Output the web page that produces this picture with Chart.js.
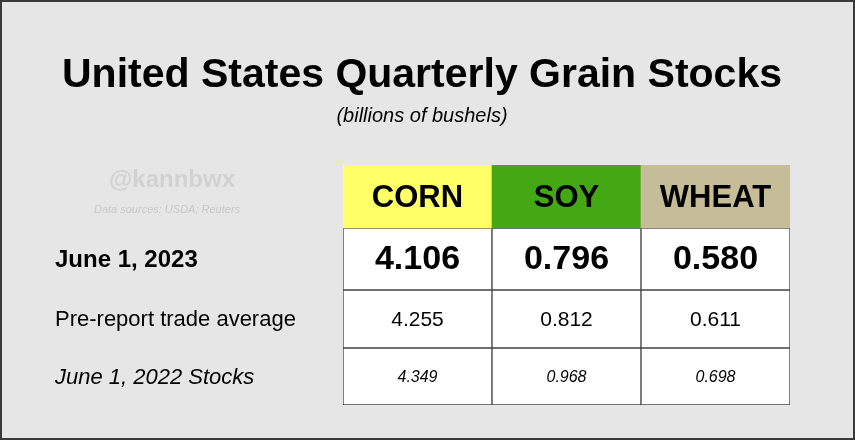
<!DOCTYPE html>
<html>
<head>
<meta charset="utf-8">
<script src="https://cdn.jsdelivr.net/npm/chart.js@4"></script>
<style>
  html, body { margin: 0; padding: 0; background: #fff; }
  #wrap { width: 855px; height: 440px; }
</style>
</head>
<body>
<div id="wrap"><canvas id="grain"></canvas></div>
<script>
// table data
const crops = ['CORN', 'SOY', 'WHEAT'];
const headerColors = ['#ffff66', '#44a814', '#c4bd97'];
const rowLabels = ['June 1, 2023', 'Pre-report trade average', 'June 1, 2022 Stocks'];
const june2023 = [4.106, 0.796, 0.580];
const tradeAverage = [4.255, 0.812, 0.611];
const june2022 = [4.349, 0.968, 0.698];

// row boundaries on the y scale (header, then three rows)
const rowEdges = [0, 63, 125, 183, 240];
const rowValues = [june2023, tradeAverage, june2022];
const rowFonts = ['bold 34px Arial, "Liberation Sans"', '21px Arial, "Liberation Sans"', 'italic 16px Arial, "Liberation Sans"'];
const labelFonts = ['bold 24px Arial, "Liberation Sans"', '22px Arial, "Liberation Sans"', 'italic 22px Arial, "Liberation Sans"'];

const datasets = [{
    label: 'header',
    data: crops.map(() => [rowEdges[0], rowEdges[1]]),
    backgroundColor: headerColors,
    borderWidth: 0,
    grouped: false
}];
rowValues.forEach((vals, r) => {
    datasets.push({
        label: rowLabels[r],
        data: vals.map(() => [rowEdges[r + 1], rowEdges[r + 2]]),
        backgroundColor: '#ffffff',
        borderColor: '#444444',
        borderWidth: 1,
        borderSkipped: false,
        grouped: false
    });
});

const tablePlugin = {
    id: 'tableText',
    beforeDraw(chart) {
        const ctx = chart.ctx;
        ctx.save();
        ctx.fillStyle = '#e6e6e6';
        ctx.fillRect(0, 0, chart.width, chart.height);
        ctx.strokeStyle = '#3a3a3a';
        ctx.lineWidth = 2;
        ctx.strokeRect(1, 1, chart.width - 2, chart.height - 2);
        ctx.fillStyle = '#000';
        ctx.textAlign = 'center';
        ctx.textBaseline = 'middle';
        ctx.font = 'bold 41px Arial, "Liberation Sans"';
        ctx.fillText('United States Quarterly Grain Stocks', 422, 76);
        ctx.font = 'italic 20px Arial, "Liberation Sans"';
        ctx.fillText('(billions of bushels)', 422, 116);
        ctx.fillStyle = '#d2d2d2';
        ctx.font = 'bold 24px Arial, "Liberation Sans"';
        ctx.fillText('@kannbwx', 172, 180);
        ctx.font = 'italic 11px Arial, "Liberation Sans"';
        ctx.fillStyle = '#c8c8c8';
        ctx.fillText('Data sources: USDA; Reuters', 167, 210);
        ctx.restore();
    },
    afterDatasetsDraw(chart) {
        const ctx = chart.ctx;
        const y = chart.scales.y;
        ctx.save();
        ctx.fillStyle = '#000';
        ctx.textBaseline = 'middle';
        // header text
        ctx.textAlign = 'center';
        ctx.font = 'bold 31px Arial, "Liberation Sans"';
        chart.getDatasetMeta(0).data.forEach((bar, i) => {
            ctx.fillText(crops[i], bar.x, (y.getPixelForValue(rowEdges[0]) + y.getPixelForValue(rowEdges[1])) / 2 + 2);
        });
        rowValues.forEach((vals, r) => {
            const mid = (y.getPixelForValue(rowEdges[r + 1]) + y.getPixelForValue(rowEdges[r + 2])) / 2 + 1;
            ctx.textAlign = 'center';
            ctx.font = rowFonts[r];
            chart.getDatasetMeta(r + 1).data.forEach((bar, i) => {
                ctx.fillText(vals[i].toFixed(3), bar.x, mid);
            });
            ctx.textAlign = 'left';
            ctx.font = labelFonts[r];
            ctx.fillText(rowLabels[r], 55, mid);
        });
        ctx.restore();
    }
};

new Chart(document.getElementById('grain'), {
    type: 'bar',
    data: { labels: crops, datasets },
    options: {
        responsive: true,
        maintainAspectRatio: false,
        animation: false,
        layout: { padding: { left: 343, right: 65, top: 165, bottom: 35 } },
        datasets: { bar: { barPercentage: 1, categoryPercentage: 1 } },
        scales: {
            x: { display: false, offset: true },
            y: { display: false, min: 0, max: 240, reverse: true }
        },
        plugins: { legend: { display: false }, tooltip: { enabled: false } }
    },
    plugins: [tablePlugin]
});
</script>
</body>
</html>
